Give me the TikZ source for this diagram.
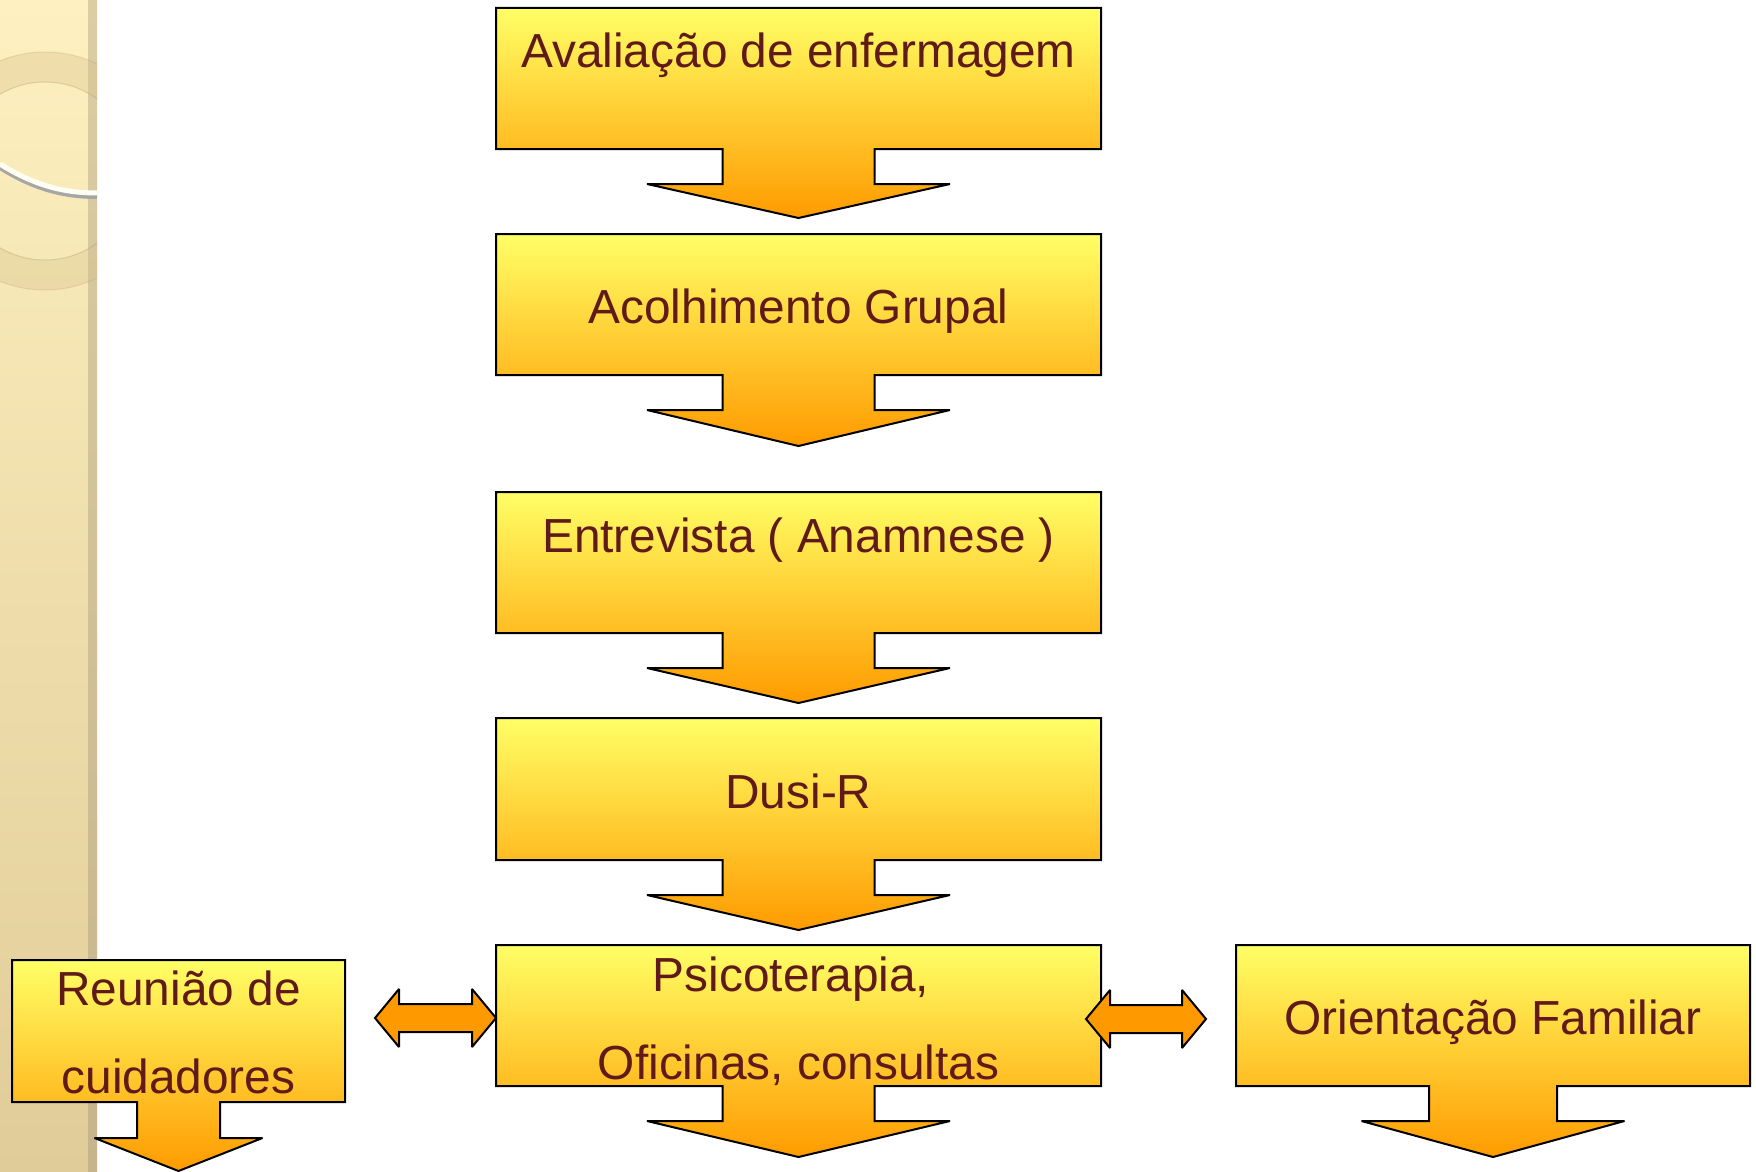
\documentclass[tikz,border=0pt]{standalone}
\usepackage{fontspec}
\setmainfont{Liberation Sans}
\definecolor{txt}{RGB}{96,26,26}
\definecolor{ytop}{RGB}{255,255,102}
\definecolor{obot}{RGB}{255,155,0}
\definecolor{dorange}{RGB}{255,153,0}
\definecolor{stripA}{RGB}{254,240,192}
\definecolor{stripB}{RGB}{224,204,152}
\definecolor{edgeA}{RGB}{220,205,165}
\definecolor{edgeB}{RGB}{198,180,140}
\definecolor{ringc}{RGB}{215,195,140}
\newcommand\arrowbox[8]{%
  \pgfmathsetmacro\cx{(#1+#2)/2}%
  \path[boxshape] (#1,#3) -- (#2,#3) -- (#2,#4) -- (\cx+#5,#4) -- (\cx+#5,#4+#7)
    -- (\cx+#6,#4+#7) -- (\cx,#4+#7+#8) -- (\cx-#6,#4+#7) -- (\cx-#5,#4+#7)
    -- (\cx-#5,#4) -- (#1,#4) -- cycle;%
}
\newcommand\dblarrow[3]{% #1 left tip x, #2 right tip x, #3 center y
  \path[dblshape] (#1,#3) -- (#1+24,#3-29) -- (#1+24,#3-14) -- (#2-24,#3-14) -- (#2-24,#3-29)
    -- (#2,#3) -- (#2-24,#3+29) -- (#2-24,#3+14) -- (#1+24,#3+14) -- (#1+24,#3+29) -- cycle;%
}
\tikzset{
  boxshape/.style={draw=black, line width=2pt, line join=miter, miter limit=2, top color=ytop, bottom color=obot},
  dblshape/.style={draw=black, line width=2pt, miter limit=2, fill=dorange},
  lbl/.style={anchor=base, text=txt, inner sep=0pt, font=\fontsize{47.8}{57}\selectfont},
}
\begin{document}
\begin{tikzpicture}[x=1pt,y=-1pt]
\useasboundingbox (0,0) rectangle (1756,1172);
\fill[white] (0,0) rectangle (1756,1172);
% left decorative strip
\shade[top color=stripA, bottom color=stripB] (0,0) rectangle (88,1172);
\shade[top color=edgeA, bottom color=edgeB] (88,0) rectangle (97,1172);
\begin{scope}
  \clip (0,0) rectangle (97,1172);
  \fill[ringc, opacity=0.35, even odd rule] (45,171) circle (119) (45,171) circle (89);
  \draw[ringc!80!black, opacity=0.35, line width=1pt] (45,171) circle (89);
  \draw[ringc!80!black, opacity=0.25, line width=1pt] (45,171) circle (119);
  \draw[gray!70, line width=4pt] (0,168) .. controls (35,190) and (65,197) .. (97,197);
  \draw[white!95!yellow, line width=5pt] (0,164) .. controls (35,186) and (65,193) .. (97,193);
\end{scope}
% main column
\arrowbox{496}{1101}{8}{149}{76}{151.5}{35}{34}
\arrowbox{496}{1101}{234}{375}{76}{151.5}{35}{36}
\arrowbox{496}{1101}{492}{633}{76}{151.5}{35}{35}
\arrowbox{496}{1101}{718}{860}{76}{151.5}{35}{35}
\arrowbox{496}{1101}{945}{1086}{76}{151.5}{35}{36}
% side boxes
\arrowbox{12}{345}{960}{1102}{41.5}{84}{36}{33}
\arrowbox{1236}{1750}{945}{1086}{64}{131.5}{35}{36}
% double arrows
\dblarrow{375}{496}{1018}
\dblarrow{1086}{1206}{1019}
% texts
\node[lbl] (t1) at (798.5,67) {Avaliação de enfermagem};
\node[lbl] (t2) at (798.5,323) {Acolhimento Grupal};
\node[lbl] (t3) at (798.5,552) {Entrevista ( Anamnese )};
\node[lbl] (t4) at (798.5,808) {Dusi-R};
\node[lbl] (t5a) at (791,991) {Psicoterapia,};
\node[lbl] (t5b) at (798.5,1079) {Oficinas, consultas};
\node[lbl] (t6a) at (178.5,1005) {Reunião de};
\node[lbl] (t6b) at (178.5,1093) {cuidadores};
\node[lbl] (t7) at (1493,1034) {Orientação Familiar};
\end{tikzpicture}
\end{document}
